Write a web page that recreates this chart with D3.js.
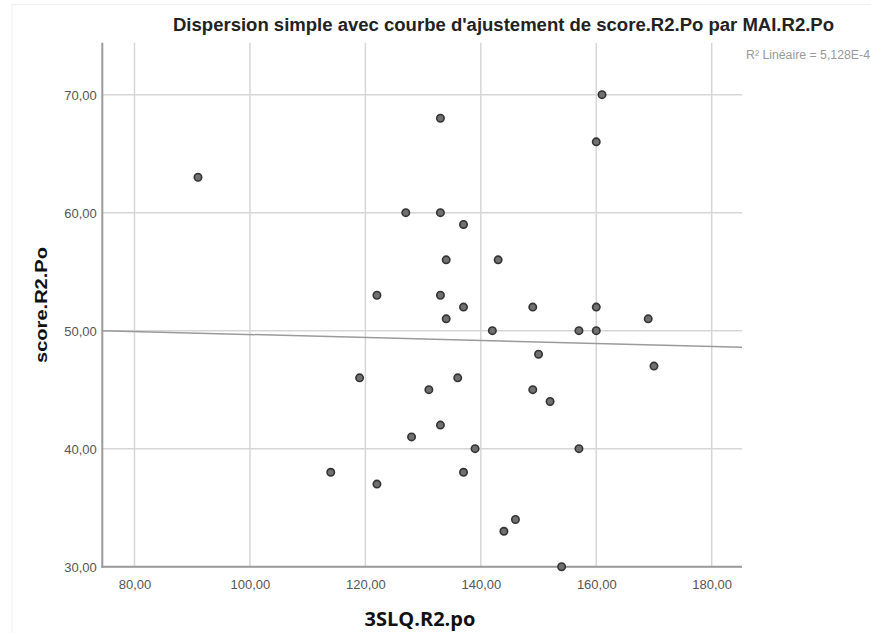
<!DOCTYPE html>
<html>
<head>
    <meta charset="UTF-8">
    <title>Dispersion simple</title>
    <script type="text/javascript" src="https://d3js.org/d3.v7.min.js"></script>
    <style>
        body { margin: 0; background: #fff; }
    </style>
</head>
<body>
<svg width="871" height="633"></svg>
<script>
    // donnees
    var sqlValues = [91, 114, 119, 122, 122, 127, 128, 131, 133, 133, 133, 133, 134, 134, 136, 137, 137, 137,
        139, 142, 143, 144, 146, 149, 149, 150, 152, 154, 157, 157, 160, 160, 160, 161, 169, 170];
    var scoreValues = [63, 38, 46, 53, 37, 60, 41, 45, 68, 60, 53, 42, 56, 51, 46, 59, 52, 38,
        40, 50, 56, 33, 34, 52, 45, 48, 44, 30, 50, 40, 66, 52, 50, 70, 51, 47];
    // droite d'ajustement lue aux deux bords du graphique
    var fitX = [74.42, 185.25];
    var fitY = [50.0, 48.6];
    var xTicks = [80, 100, 120, 140, 160, 180];
    var yTicks = [30, 40, 50, 60, 70];

    var svg = d3.select("svg");
    var width = +svg.attr("width");
    var height = +svg.attr("height");

    var plot = {left: 102.3, right: 742, top: 42.7, bottom: 566.7};

    var xScale = d3.scaleLinear()
        .domain([74.42, 185.25])
        .range([plot.left, plot.right]);
    var yScale = d3.scaleLinear()
        .domain([30, 74.4])
        .range([plot.bottom, plot.top]);

    var fmt = function (d) { return d3.format(".2f")(d).replace(".", ","); };

    // cadre tres pale de la capture
    svg.append("path")
        .attr("d", "M12," + height + "V4.5H" + width)
        .attr("fill", "none")
        .attr("stroke", "#efefef")
        .attr("stroke-width", 1);

    // grille
    svg.append("g").selectAll("line")
        .data(xTicks)
        .enter()
        .append("line")
        .attr("x1", function (d) { return xScale(d); })
        .attr("x2", function (d) { return xScale(d); })
        .attr("y1", plot.top)
        .attr("y2", plot.bottom)
        .attr("stroke", "#d6d6d6")
        .attr("stroke-width", 1.5);
    svg.append("g").selectAll("line")
        .data(yTicks)
        .enter()
        .append("line")
        .attr("x1", plot.left)
        .attr("x2", plot.right)
        .attr("y1", function (d) { return yScale(d); })
        .attr("y2", function (d) { return yScale(d); })
        .attr("stroke", "#d6d6d6")
        .attr("stroke-width", 1.5);

    // axes
    var xAxis = d3.axisBottom(xScale).tickValues(xTicks).tickSize(0).tickPadding(13).tickFormat(fmt);
    var yAxis = d3.axisLeft(yScale).tickValues(yTicks).tickSize(0).tickPadding(6).tickFormat(fmt);

    var gx = svg.append("g")
        .attr("transform", "translate(0," + plot.bottom + ")")
        .call(xAxis);
    var gy = svg.append("g")
        .attr("transform", "translate(" + plot.left + ",0)")
        .call(yAxis);
    [gx, gy].forEach(function (g) {
        g.select(".domain").remove();
        g.selectAll("text")
            .attr("font-family", "Liberation Sans, Arial, sans-serif")
            .attr("font-size", 13)
            .attr("fill", "#555");
    });
    gy.selectAll("text").attr("x", -5.5).attr("dy", "0.34em");

    svg.append("line")
        .attr("x1", plot.left).attr("x2", plot.left)
        .attr("y1", plot.top).attr("y2", plot.bottom + 1)
        .attr("stroke", "#9a9a9a").attr("stroke-width", 2);
    svg.append("line")
        .attr("x1", plot.left - 1).attr("x2", plot.right)
        .attr("y1", plot.bottom).attr("y2", plot.bottom)
        .attr("stroke", "#9a9a9a").attr("stroke-width", 2);

    // droite d'ajustement lineaire
    svg.append("line")
        .attr("x1", xScale(fitX[0]))
        .attr("x2", xScale(fitX[1]))
        .attr("y1", yScale(fitY[0]))
        .attr("y2", yScale(fitY[1]))
        .attr("stroke", "#9a9a9a")
        .attr("stroke-width", 1.5);

    // points
    svg.append("g").selectAll("circle")
        .data(sqlValues)
        .enter()
        .append("circle")
        .attr("cx", function (d) { return xScale(d); })
        .attr("cy", function (d, i) { return yScale(scoreValues[i]); })
        .attr("r", 3.7)
        .attr("fill", "#707070")
        .attr("stroke", "#333")
        .attr("stroke-width", 1.6);

    // titres
    svg.append("text")
        .attr("x", 173)
        .attr("y", 31)
        .attr("textLength", 661)
        .attr("lengthAdjust", "spacingAndGlyphs")
        .attr("font-family", "Liberation Sans, Arial, sans-serif")
        .attr("font-weight", "bold")
        .attr("font-size", 18)
        .attr("fill", "#222")
        .text("Dispersion simple avec courbe d'ajustement de score.R2.Po par MAI.R2.Po");

    svg.append("text")
        .attr("x", 746)
        .attr("y", 59)
        .attr("textLength", 124)
        .attr("lengthAdjust", "spacingAndGlyphs")
        .attr("font-family", "Liberation Sans, Arial, sans-serif")
        .attr("font-size", 12)
        .attr("fill", "#999")
        .text("R² Linéaire = 5,128E-4");

    svg.append("text")
        .attr("transform", "translate(47,305) rotate(-90)")
        .attr("text-anchor", "middle")
        .attr("textLength", 116)
        .attr("lengthAdjust", "spacingAndGlyphs")
        .attr("font-family", "Liberation Sans, Arial, sans-serif")
        .attr("font-weight", "bold")
        .attr("font-size", 17)
        .attr("fill", "#111")
        .text("score.R2.Po");

    svg.append("text")
        .attr("x", 420)
        .attr("y", 626)
        .attr("text-anchor", "middle")
        .attr("font-family", "Open Sans, sans-serif")
        .attr("font-weight", "bold")
        .attr("font-size", 20)
        .attr("fill", "#111")
        .text("3SLQ.R2.po");
</script>
</body>
</html>
